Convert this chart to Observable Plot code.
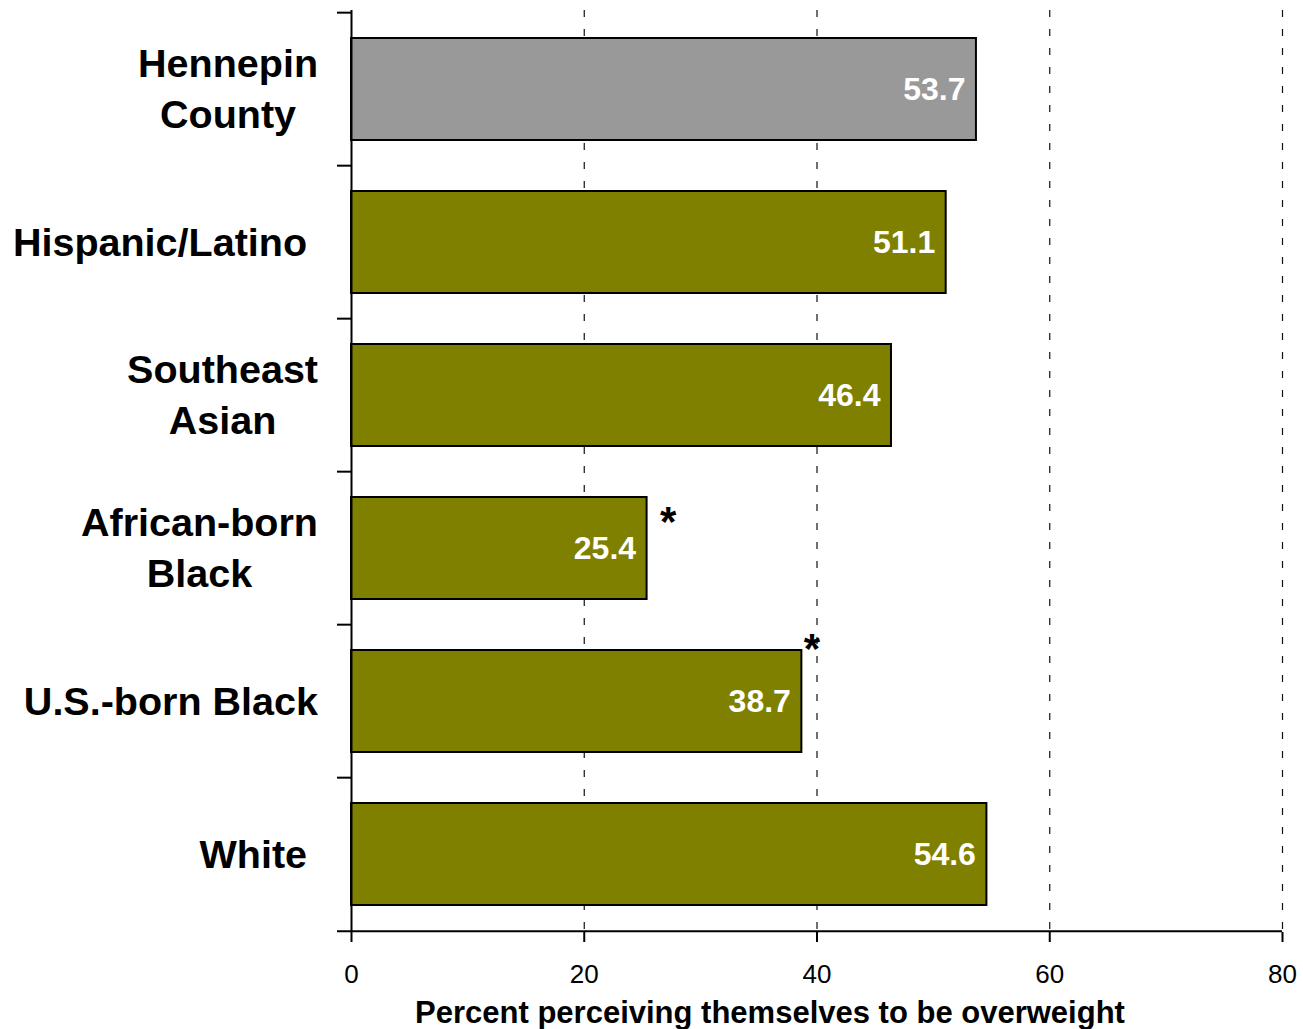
<!DOCTYPE html>
<html><head><meta charset="utf-8">
<script src="https://cdn.jsdelivr.net/npm/d3@7"></script>
<script src="https://cdn.jsdelivr.net/npm/@observablehq/plot@0.6"></script>
<style>html,body{margin:0;padding:0;background:#fff}</style>
</head><body><div id="chart"></div>
<script>
// ---- data ----
const categories = ["Hennepin County", "Hispanic/Latino", "Southeast Asian", "African-born Black", "U.S.-born Black", "White"];
const categoryLabels = ["Hennepin\nCounty", "Hispanic/Latino\u00A0", "Southeast\nAsian", "African-born\nBlack", "U.S.-born Black", "White\u00A0"];
const values = [53.7, 51.1, 46.4, 25.4, 38.7, 54.6];
const groups = ["county", "group", "group", "group", "group", "group"];
const xTicks = [0, 20, 40, 60, 80];
const xTitle = "Percent perceiving themselves to be overweight";

const data = categories.map((c, i) => ({category: c, label: categoryLabels[i], value: values[i], group: groups[i]}));

// ---- layout ----
const W = 1303, H = 1029, mL = 351, mR = 21, mT = 10, mB = 97;
const step = (H - mT - mB) / categories.length;
const font = "Arial, 'Liberation Sans', sans-serif";

const chart = Plot.plot({
  width: W, height: H,
  marginLeft: mL, marginRight: mR, marginTop: mT, marginBottom: mB,
  style: {fontFamily: font, background: "white", color: "black"},
  x: {domain: [0, 80], axis: null},
  y: {domain: categories, paddingInner: 0.336, paddingOuter: 0.168, align: 0.5, axis: null},
  color: {domain: ["county", "group"], range: ["#999999", "#808000"]},
  marks: [
    Plot.ruleX(xTicks.filter(d => d > 0), {stroke: "#111", strokeWidth: 1.2, strokeDasharray: "7,12"}),
    Plot.barX(data, {y: "category", x: "value", fill: "group", stroke: "black", strokeWidth: 2}),
    Plot.text(data, {y: "category", x: "value", text: d => d.value.toFixed(1), textAnchor: "end", dx: -11,
      fill: "white", fontWeight: "bold", fontSize: 32}),
    // significance markers
    Plot.text(data.filter(d => d.category === "African-born Black"), {y: "category", x: "value", text: () => "*",
      textAnchor: "middle", dx: 21, dy: -26, fontWeight: "bold", fontSize: 42}),
    Plot.text(data.filter(d => d.category === "U.S.-born Black"), {y: "category", x: "value", text: () => "*",
      textAnchor: "middle", dx: 10, dy: -52, fontWeight: "bold", fontSize: 42}),
    // y axis line and category boundary ticks
    Plot.ruleX([0], {stroke: "black", strokeWidth: 2}),
    Plot.ruleY(categories, {y: d => d, x1: 0, x2: 0, insetLeft: -14, dy: -step / 2, stroke: "black", strokeWidth: 2}),
    Plot.ruleY([categories[categories.length - 1]], {y: d => d, x1: 0, x2: 80, insetLeft: -14, dy: step / 2, stroke: "black", strokeWidth: 2}),
    // x axis
    Plot.axisX({ticks: xTicks, tickSize: 10, tickPadding: 22, fontSize: 26, strokeWidth: 2, label: null, tickFormat: d => String(d)}),
    Plot.text([xTitle], {frameAnchor: "bottom", text: d => d, lineAnchor: "top", dy: 68, dx: -47,
      fontWeight: "bold", fontSize: 31}),
    // category labels
    Plot.text(data, {y: "category", text: "label", frameAnchor: "left", textAnchor: "middle", lineAnchor: "middle",
      lineHeight: 1.28, dy: -3, fontWeight: "bold", fontSize: 39.5, ariaDescription: "category-labels"})
  ]
});
document.getElementById("chart").appendChild(chart);

// right-align each (centered, possibly multi-line) category label block next to the axis
const rightEdge = mL - 33;
const svgLeft = chart.getBoundingClientRect().left;
let labelGroup = chart.querySelector('g[aria-description="category-labels"]');
if (!labelGroup) {
  const textGroups = chart.querySelectorAll('g[aria-label="text"]');
  labelGroup = textGroups[textGroups.length - 1];
}
labelGroup.querySelectorAll("text").forEach(t => {
  const r = t.getBoundingClientRect();
  const shift = rightEdge - (r.right - svgLeft);
  const prev = t.getAttribute("transform") || "";
  t.setAttribute("transform", `translate(${shift},0) ${prev}`);
});
</script>
</body></html>
